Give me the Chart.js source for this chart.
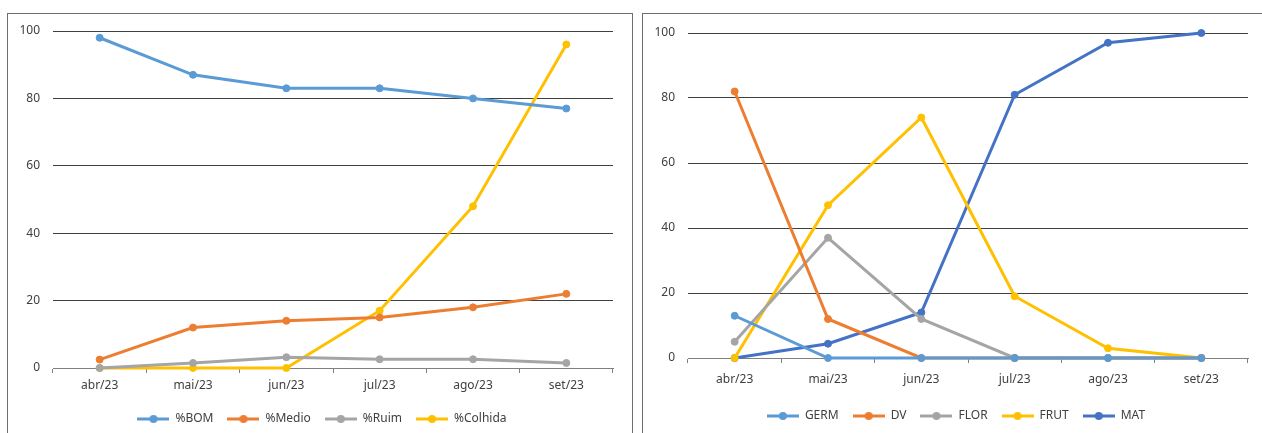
<!DOCTYPE html>
<html>
<head>
<meta charset="utf-8">
<script src="https://cdn.jsdelivr.net/npm/chart.js@4.4.1/dist/chart.umd.min.js"></script>
<style>
  html, body { margin: 0; padding: 0; background: #fff; overflow: hidden; width: 1262px; height: 433px; }
  .frame { position: absolute; border: 1px solid #6e6e6e; box-sizing: border-box; }
  #frameA { left: 7px; top: 13px; width: 626px; height: 440px; }
  #frameB { left: 642px; top: 13px; width: 640px; height: 440px; }
  canvas { position: absolute; }
  #chartA { left: 8px; top: 14px; }
  #chartB { left: 643px; top: 14px; }
</style>
</head>
<body>
<div class="frame" id="frameA"></div>
<div class="frame" id="frameB"></div>
<canvas id="chartA" width="623" height="421"></canvas>
<canvas id="chartB" width="619" height="421"></canvas>
<script>
// Months on the category axis
const months = ['abr/23', 'mai/23', 'jun/23', 'jul/23', 'ago/23', 'set/23'];
const yTicks = [0, 20, 40, 60, 80, 100];

// Crop condition and harvest (%)
const bom     = [98, 87, 83, 83, 80, 77];
const medio   = [2.5, 12, 14, 15, 18, 22];
const ruim    = [0, 1.5, 3.2, 2.6, 2.6, 1.5];
const colhida = [0, 0, 0, 17, 48, 96];

// Crop development stages (%)
const germ = [13, 0, 0, 0, 0, 0];
const dv   = [82, 12, 0, 0, 0, 0];
const flor = [5, 37, 12, 0, 0, 0];
const frut = [0, 47, 74, 19, 3, 0];
const mat  = [0, 4.4, 14, 81, 97, 100];

const BLUE = '#5B9BD5', ORANGE = '#ED7D31', GRAY = '#A5A5A5', GOLD = '#FFC000', DARKBLUE = '#4472C4';
const TEXT = '#404040';
const FONT = { family: '"Noto Sans", sans-serif', size: 12 };
// compact line height so the top tick label does not push the plot down
const YFONT = { family: '"Noto Sans", sans-serif', size: 12, lineHeight: 0.6 };

// Legend swatch: short line with a round marker in the middle
function swatch(color) {
  const c = document.createElement('canvas');
  c.width = 32; c.height = 10;
  const g = c.getContext('2d');
  g.strokeStyle = color; g.lineWidth = 3;
  g.beginPath(); g.moveTo(0, 5); g.lineTo(32, 5); g.stroke();
  g.fillStyle = color;
  g.beginPath(); g.arc(16, 5, 4, 0, Math.PI * 2); g.fill();
  return c;
}

// Moves the legend block sideways after layout
const legendShift = {
  id: 'legendShift',
  afterLayout(chart, args, opts) {
    if (chart.legend && opts.dx) {
      chart.legend.left += opts.dx;
      chart.legend.right += opts.dx;
    }
  }
};

function build(id, series, geom) {
  const icons = series.map(s => swatch(s.color));
  return new Chart(document.getElementById(id), {
    type: 'line',
    plugins: [legendShift],
    data: {
      labels: months,
      datasets: series.map(s => ({
        label: s.name,
        data: s.values,
        borderColor: s.color,
        backgroundColor: s.color,
        pointBackgroundColor: s.color,
        pointBorderColor: s.color,
        borderWidth: 3,
        pointRadius: 3.5,
        pointBorderWidth: 1,
        tension: 0,
        fill: false,
        clip: false
      }))
    },
    options: {
      responsive: false,
      animation: false,
      devicePixelRatio: 1,
      layout: { padding: { left: geom.padL, right: geom.padR, top: geom.padT, bottom: geom.padB } },
      plugins: {
        tooltip: { enabled: false },
        legendShift: { dx: geom.legendDx },
        legend: {
          position: 'bottom',
          labels: {
            usePointStyle: true,
            pointStyleWidth: 32,
            padding: 14,
            color: TEXT,
            font: FONT,
            generateLabels(chart) {
              return Chart.defaults.plugins.legend.labels.generateLabels(chart)
                .map((item, i) => Object.assign(item, { pointStyle: icons[i] }));
            }
          }
        }
      },
      scales: {
        x: {
          offset: true,
          grid: { offset: true, drawOnChartArea: false, drawTicks: true, tickLength: 5, color: '#808080' },
          border: { color: '#808080', width: 1 },
          ticks: { padding: geom.xPad, color: TEXT, font: FONT, maxRotation: 0 },
          afterFit(s) { s.height = geom.xH; }
        },
        y: {
          min: 0, max: 100,
          afterBuildTicks(s) { s.ticks = yTicks.map(v => ({ value: v })); },
          ticks: { padding: 13, color: TEXT, font: YFONT },
          grid: {
            drawTicks: false,
            color: ctx => (ctx.tick && ctx.tick.value === 0) ? '#808080' : '#404040'
          },
          border: { display: false },
          afterFit(s) { s.width = geom.yW; }
        }
      }
    }
  });
}

build('chartA', [
  { name: '%BOM', values: bom, color: BLUE },
  { name: '%Medio', values: medio, color: ORANGE },
  { name: '%Ruim', values: ruim, color: GRAY },
  { name: '%Colhida', values: colhida, color: GOLD }
], { padL: 5, padR: 18, padT: 17, padB: 0, yW: 40, xH: 31, xPad: 5, legendDx: 9 });

build('chartB', [
  { name: 'GERM', values: germ, color: BLUE },
  { name: 'DV', values: dv, color: ORANGE },
  { name: 'FLOR', values: flor, color: GRAY },
  { name: 'FRUT', values: frut, color: GOLD },
  { name: 'MAT', values: mat, color: DARKBLUE }
], { padL: 5, padR: 14, padT: 19, padB: 3, yW: 40, xH: 38, xPad: 9, legendDx: 8 });
</script>
</body>
</html>
